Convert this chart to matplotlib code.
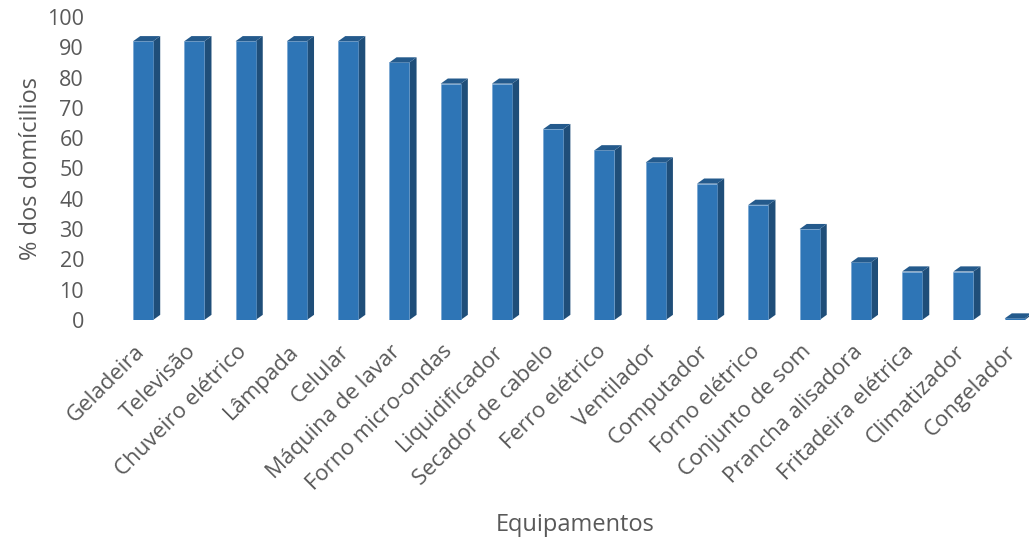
import numpy as np
import matplotlib.pyplot as plt
import matplotlib.transforms as mtransforms
from matplotlib.patches import Polygon

equipamentos = ["Geladeira", "Televisão", "Chuveiro elétrico", "Lâmpada", "Celular",
                "Máquina de lavar", "Forno micro-ondas", "Liquidificador",
                "Secador de cabelo", "Ferro elétrico", "Ventilador", "Computador",
                "Forno elétrico", "Conjunto de som", "Prancha alisadora",
                "Fritadeira elétrica", "Climatizador", "Congelador"]
percentual = [92, 92, 92, 92, 92, 85, 78, 78, 63, 56, 52, 45, 38, 30, 19, 16, 16, 0.5]
yticks = [0, 10, 20, 30, 40, 50, 60, 70, 80, 90, 100]

plt.rcParams["font.family"] = ["Open Sans", "DejaVu Sans"]
gray = "#595959"
front = "#2E75B6"
side = "#1F4E79"
top = "#245A8C"

fig = plt.figure(figsize=(10.29, 5.44), dpi=100)
ax = fig.add_axes([117.4 / 1029, 1 - 320 / 544, (1029 - 117.4) / 1029, (320 - 17) / 544])

x = np.arange(len(equipamentos))
w = 0.39
dx, dy = 0.14, 1.7  # profundidade do efeito 3D

ax.bar(x, percentual, width=w, color=front, edgecolor="#6FA0D0", linewidth=0.4, zorder=3)
for xi, v in zip(x, percentual):
    r = xi + w / 2
    l = xi - w / 2
    ax.add_patch(Polygon([(r, 0), (r + dx, dy), (r + dx, v + dy), (r, v)],
                         closed=True, facecolor=side, edgecolor="none", zorder=2))
    ax.add_patch(Polygon([(l, v), (l + dx, v + dy), (r + dx, v + dy), (r, v)],
                         closed=True, facecolor=top, edgecolor="none", zorder=4))

ax.set_xlim(-0.5, 17.28)
ax.set_ylim(0, 100)
ax.set_yticks(yticks)
ax.set_xticks(x)
ax.set_xticklabels([])
# rótulos das categorias desenhados à parte, com deslocamento em pixels
shift = mtransforms.ScaledTranslation(-9 / 100, -21 / 100, fig.dpi_scale_trans)
for xi, nome in zip(x, equipamentos):
    ax.text(xi, 0, nome, transform=ax.get_xaxis_transform() + shift,
            rotation=45, ha="right", va="top", rotation_mode="anchor",
            color=gray, fontsize=16)
ax.tick_params(axis="y", labelsize=15.5, labelcolor=gray, length=0, pad=24)
ax.tick_params(axis="x", length=0)
for s in ax.spines.values():
    s.set_visible(False)

ax.set_ylabel("% dos domícilios", fontsize=17, color=gray, labelpad=3)
fig.text(575 / 1029, 1 - 525 / 544, "Equipamentos", fontsize=17, color=gray,
         ha="center", va="center")

fig.savefig("out.png", dpi=100)
